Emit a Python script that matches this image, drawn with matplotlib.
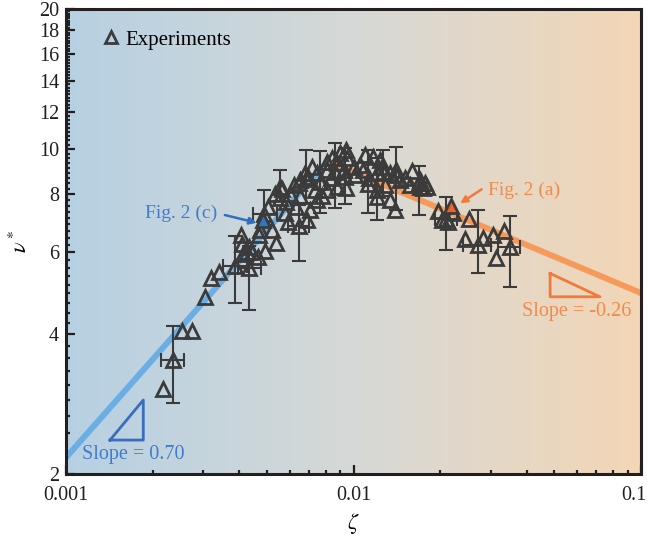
import numpy as np
import matplotlib
matplotlib.use("Agg")
import matplotlib.pyplot as plt
from matplotlib.colors import LinearSegmentedColormap
from matplotlib.ticker import FixedLocator, NullFormatter, FixedFormatter
from matplotlib.transforms import ScaledTranslation

plt.rcParams['font.family'] = ['Liberation Serif', 'DejaVu Serif']
plt.rcParams['mathtext.fontset'] = 'stix'

# ---------------- data ----------------
# experiments without error bars
zeta = [0.00217, 0.00253, 0.00274, 0.00304, 0.00319, 0.00341, 0.00406, 0.00409,
        0.00433, 0.00413, 0.00426, 0.00444, 0.00469, 0.00492, 0.00465, 0.00537,
        0.00473, 0.00520, 0.00533, 0.00566, 0.00555, 0.00583, 0.00601, 0.00620,
        0.00644, 0.00651, 0.00678, 0.00695, 0.00718, 0.00747, 0.00806, 0.00812,
        0.00845, 0.00879, 0.00897, 0.00942, 0.00950, 0.00688, 0.00706, 0.00747,
        0.00806, 0.00879, 0.00942, 0.0100, 0.01053, 0.01096, 0.01170, 0.01236,
        0.01256, 0.01207, 0.0134, 0.0141, 0.01451, 0.01597, 0.01703, 0.01803,
        0.01703, 0.01207, 0.0134, 0.01394, 0.01773, 0.0174, 0.0197, 0.0222,
        0.0213, 0.0203, 0.0252, 0.0245, 0.0281, 0.0305, 0.0334, 0.0313,
        0.00506, 0.00578, 0.0063, 0.00651, 0.00735, 0.00777, 0.00838, 0.00927,
        0.0101, 0.0108, 0.0113, 0.01287, 0.0151, 0.0157, 0.0059]
nu = [3.05, 4.06, 4.06, 4.80, 5.28, 5.44, 6.53, 6.25,
      6.16, 5.95, 6.00, 6.00, 6.53, 6.03, 5.86, 6.27,
      6.70, 6.70, 8.00, 8.20, 7.85, 7.70, 8.00, 8.37,
      8.45, 8.58, 8.88, 8.71, 9.15, 8.88, 9.01, 9.38,
      9.56, 9.33, 9.80, 9.95, 9.56, 7.04, 7.39, 7.77,
      8.16, 8.29, 8.25, 9.15, 9.24, 9.71, 9.62, 9.47,
      9.15, 8.88, 8.88, 9.01, 8.58, 8.97, 8.58, 8.29,
      8.29, 7.88, 7.77, 7.39, 8.45, 8.25, 7.35, 7.28,
      6.97, 7.04, 7.07, 6.40, 6.43, 6.53, 6.67, 5.83,
      7.50, 7.30, 7.50, 7.92, 8.16, 7.92, 8.66, 9.01,
      8.80, 9.00, 8.66, 8.37, 8.66, 8.37, 6.97]

# experiments with error bars
zeta_e = [0.00236, 0.00387, 0.00433, 0.00488, 0.00555, 0.00683, 0.00765, 0.00862,
          0.00646, 0.01207, 0.01265, 0.0140, 0.0169, 0.0210, 0.0270, 0.0350,
          0.00935, 0.0112]
nu_e = [3.52, 5.60, 5.56, 7.25, 8.29, 8.62, 8.50, 8.92,
        6.84, 8.16, 8.93, 8.79, 8.45, 7.07, 6.22, 6.16,
        8.70, 8.40]
nu_lo = [2.84, 4.66, 4.51, 6.86, 7.73, 7.66, 7.27, 7.47,
         5.74, 7.04, 7.92, 7.39, 7.21, 6.06, 5.42, 5.05,
         7.60, 7.30]
nu_hi = [4.16, 6.50, 6.19, 8.16, 9.01, 9.95, 9.92, 10.30,
         7.58, 9.56, 9.95, 10.10, 9.19, 7.88, 7.39, 7.19,
         10.05, 9.95]
zeta_lo = [0.00214, 0.00352, 0.00395, 0.00446, 0.00555, 0.00683, 0.00765, 0.00862,
           0.00590, 0.01207, 0.01265, 0.0140, 0.0169, 0.0192, 0.0240, 0.0318,
           0.00935, 0.0112]
zeta_hi = [0.00257, 0.00426, 0.00478, 0.00541, 0.00555, 0.00683, 0.00765, 0.00862,
           0.00700, 0.01207, 0.01265, 0.0140, 0.0169, 0.0229, 0.0301, 0.0379,
           0.00935, 0.0112]

# highlighted cases
fig2c = (0.00485, 7.05)
fig2a = (0.0219, 7.54)

# scaling laws
slope_left, A_left = 0.70, 2.17      # nu = A*(zeta/0.001)^0.70
slope_right, B_right = -0.26, 4.9    # nu = B*(zeta/0.1)^-0.26

y_major = [2, 4, 6, 8, 10, 12, 14, 16, 18, 20]
x_major = [0.001, 0.01, 0.1]
x_labels = ['0.001', '0.01', '0.1']

# ---------------- figure ----------------
fig = plt.figure(figsize=(6.48, 5.39), dpi=100)
ax = fig.add_axes([66/648, 1-474/539, (641-66)/648, (474-9)/539])
ax.set_xscale('log')
ax.set_yscale('log')
ax.set_xlim(0.001, 0.1)
ax.set_ylim(2, 20)

# background gradient
cmap = LinearSegmentedColormap.from_list('bg', ['#b6d0e3', '#d6d9d6', '#f3d6b6'])
grad = np.linspace(0, 1, 256).reshape(1, -1)
ax.imshow(grad, cmap=cmap, aspect='auto', extent=[0, 1, 0, 1],
          transform=ax.transAxes, zorder=0)

# scaling lines
xc = 10 ** ((np.log10(B_right) - np.log10(A_left) - slope_left * 3 + slope_right * 1)
            / (slope_left - slope_right))
xl = np.logspace(-3, np.log10(xc), 50)
xr = np.logspace(np.log10(xc), -1, 50)
ax.plot(xl, A_left * (xl / 0.001) ** slope_left, color='#6aaee3', lw=4.3,
        solid_capstyle='butt', zorder=2)
ax.plot(xr, B_right * (xr / 0.1) ** slope_right, color='#f69a5c', lw=4.3,
        solid_capstyle='butt', zorder=2)

mk = dict(marker='^', markersize=10, markerfacecolor='none',
          markeredgecolor='#3b3b3b', markeredgewidth=2.0, linestyle='none')

# error bars
ze = np.array(zeta_e); ne = np.array(nu_e)
yerr = [ne - np.array(nu_lo), np.array(nu_hi) - ne]
xerr = [ze - np.array(zeta_lo), np.array(zeta_hi) - ze]
ax.errorbar(ze, ne, yerr=yerr, xerr=xerr, fmt='none', ecolor='#3b3b3b',
            elinewidth=1.5, capsize=5, capthick=1.5, zorder=3)
ax.plot(ze, ne, zorder=4, **mk)
ax.plot(zeta, nu, zorder=4, label='Experiments', **mk)

# highlighted points
ax.plot(*fig2c, marker='^', markersize=10, markerfacecolor='#2b78c6',
        markeredgecolor='#3b3b3b', markeredgewidth=2.0, zorder=5)
ax.plot(*fig2a, marker='^', markersize=10, markerfacecolor='#f0622a',
        markeredgecolor='#3b3b3b', markeredgewidth=2.0, zorder=5)

# annotations
blue_txt = '#3f7dcc'
orange_txt = '#f28a4c'
ax.text(0.00188, 7.28, 'Fig. 2 (c)', color=blue_txt, fontsize=14, va='center', zorder=6)
ax.annotate('', xy=(0.0046, 6.94), xytext=(0.00357, 7.21),
            arrowprops=dict(arrowstyle='-|>', color='#2f6fc2', lw=1.8,
                            mutation_scale=10, shrinkA=0, shrinkB=0), zorder=6)
ax.text(0.0294, 8.16, 'Fig. 2 (a)', color=orange_txt, fontsize=14, va='center', zorder=6)
ax.annotate('', xy=(0.0235, 7.64), xytext=(0.0279, 8.19),
            arrowprops=dict(arrowstyle='-|>', color='#f07a3a', lw=1.8,
                            mutation_scale=10, shrinkA=0, shrinkB=0), zorder=6)

# slope triangles
ax.plot([0.001423, 0.001857, 0.001857, 0.001423], [2.366, 2.366, 2.885, 2.366],
        color='#3a6cc0', lw=2.0, zorder=6)
ax.text(0.001137, 2.20, 'Slope = 0.70', color=blue_txt, fontsize=14.5, va='center', zorder=6)
ax.plot([0.0483, 0.0483, 0.0720, 0.0483], [5.40, 4.81, 4.81, 5.40],
        color='#f07a3a', lw=2.0, zorder=6)
ax.text(0.0385, 4.47, 'Slope = -0.26', color=orange_txt, fontsize=14.5, va='center', zorder=6)

# ticks
ax.yaxis.set_major_locator(FixedLocator(y_major))
ax.yaxis.set_major_formatter(FixedFormatter([str(v) for v in y_major]))
y_minor = [a + j * 2 / 9 for a in y_major[:-1] for j in range(1, 9)]
ax.yaxis.set_minor_locator(FixedLocator(y_minor))
ax.yaxis.set_minor_formatter(NullFormatter())
ax.xaxis.set_major_locator(FixedLocator(x_major))
ax.xaxis.set_major_formatter(FixedFormatter(x_labels))
x_minor = [m * d for d in [0.001, 0.01] for m in range(2, 10)]
ax.xaxis.set_minor_locator(FixedLocator(x_minor))
ax.xaxis.set_minor_formatter(NullFormatter())
ax.tick_params(which='both', direction='in', top=False, right=False,
               labelsize=14.5, colors='#231f20', width=1.6)
ax.tick_params(which='major', length=6.5)
ax.tick_params(which='minor', length=3)
ax.tick_params(axis='x', which='major', pad=9)
ax.tick_params(axis='y', which='major', pad=5)
for s in ax.spines.values():
    s.set_linewidth(2.2)
    s.set_color('#231f20')
    s.set_zorder(10)

# keep the last x label inside the figure, as in the reference
fig.canvas.draw()
xt = ax.get_xticklabels()
xt[-1].set_transform(xt[-1].get_transform() + ScaledTranslation(-7/100, 0, fig.dpi_scale_trans))

ax.set_xlabel(r'$\zeta$', fontsize=16, labelpad=4)
ax.set_ylabel(r'$\nu^*$', fontsize=16, labelpad=5)

leg = ax.legend(loc='upper left', frameon=False, fontsize=15,
                bbox_to_anchor=(0.028, 0.995), handletextpad=0.2, handlelength=1.0,
                markerscale=0.85)

fig.savefig('out.png', dpi=100)
